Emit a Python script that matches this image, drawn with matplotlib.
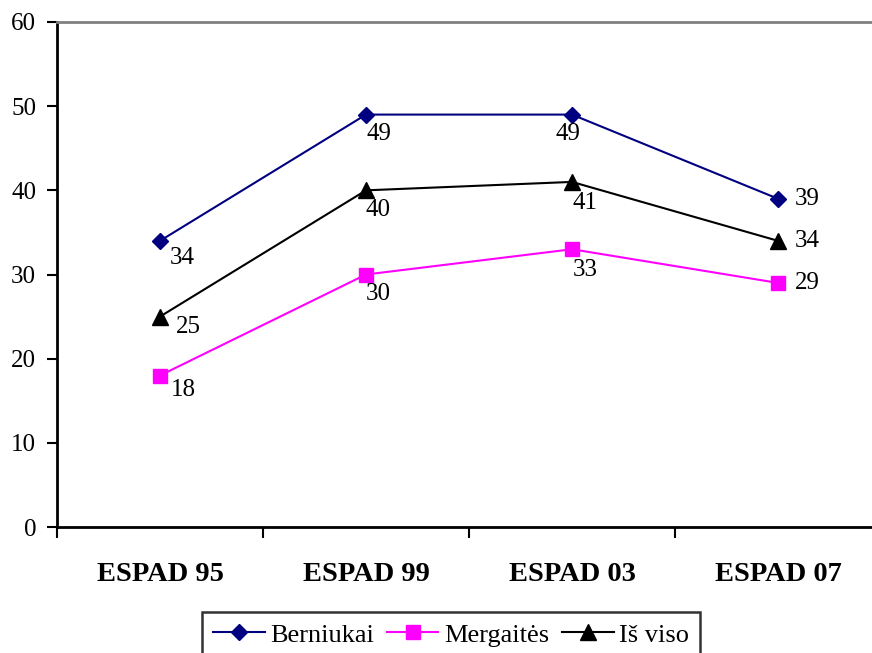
import matplotlib
matplotlib.use("Agg")
import matplotlib.pyplot as plt

categories = ["ESPAD 95", "ESPAD 99", "ESPAD 03", "ESPAD 07"]
series_names = ["Berniukai", "Mergaitės", "Iš viso"]
berniukai = [34, 49, 49, 39]
mergaites = [18, 30, 33, 29]
is_viso = [25, 40, 41, 34]
y_ticks = [0, 10, 20, 30, 40, 50, 60]

plt.rcParams['font.family'] = ['Liberation Serif', 'DejaVu Serif']

fig = plt.figure(figsize=(8.72, 6.53), dpi=100)
ax = fig.add_axes([57/872, 126/653, 824/872, 505/653])

x = list(range(len(categories)))
styles = [
    dict(color="#000080", marker="D", ms=8.5),
    dict(color="#FF00FF", marker="s", ms=10),
    dict(color="#000000", marker="^", ms=11),
]
offsets = [
    [(22, -17), (13, -19), (-4, -19), (29, 0)],
    [(23, -14), (12, -20), (13, -21), (29, 0)],
    [(28, -10), (12, -20), (13, -21), (29, 0)],
]
data = [berniukai, mergaites, is_viso]
for name, vals, st, offs in zip(series_names, data, styles, offsets):
    ax.plot(x, vals, color=st["color"], marker=st["marker"], ms=st["ms"],
            lw=1.5, label=name, clip_on=False)
    for xi, v, (dx, dy) in zip(x, vals, offs):
        ax.annotate(str(v), (xi, v), xytext=(dx, dy), textcoords="offset pixels",
                    ha="center", va="center", fontsize=18)

ax.set_xlim(-0.5, len(categories) - 0.5)
ax.set_ylim(0, 60)
ax.set_yticks(y_ticks)
ax.tick_params(axis="y", labelsize=18, length=7, width=1.5, direction="out", pad=8)
ax.set_xticks([i + 0.5 for i in range(-1, len(categories))])
ax.set_xticklabels([])
ax.set_xticks(x, minor=True)
ax.set_xticklabels(categories, minor=True, fontsize=20.5, fontweight="bold")
ax.tick_params(axis="x", which="major", length=8, width=1.5, direction="out")
ax.tick_params(axis="x", which="minor", length=0, pad=25)

for s in ["left", "bottom"]:
    ax.spines[s].set_linewidth(2)
    ax.spines[s].set_color("black")
ax.spines["top"].set_color("#808080")
ax.spines["top"].set_linewidth(2)
ax.spines["right"].set_visible(False)

leg = fig.legend(loc="upper center", bbox_to_anchor=(451/872, 41/653), ncol=3,
                 fontsize=19, frameon=True, fancybox=False, edgecolor="black",
                 handlelength=1.95, handletextpad=0.2, columnspacing=0.5,
                 borderpad=0.42, borderaxespad=0)
leg.get_frame().set_linewidth(1.8)

fig.savefig("out.png", dpi=100)
